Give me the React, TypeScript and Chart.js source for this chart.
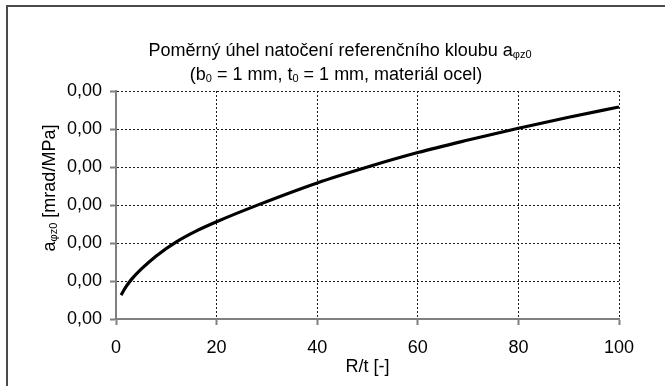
import React, { useEffect, useRef } from "react";
import { Chart, registerables } from "chart.js";

Chart.register(...registerables);

const ratioRt: number[] = [1, 2, 3, 5, 8, 12, 16, 20, 28, 40, 50, 60, 70, 80, 90, 100];
const angleValues: number[] = [0.000315, 0.000425, 0.000515, 0.000655, 0.00083, 0.001015, 0.00116, 0.00128, 0.001495, 0.00179, 0.002, 0.00219, 0.002355, 0.00251, 0.002655, 0.00279];
const xTicks: number[] = [0, 20, 40, 60, 80, 100];
const yTicks: number[] = [0, 0.0005, 0.001, 0.0015, 0.002, 0.0025, 0.003];

type Seg = { t: string; sub?: boolean };
const titleLine1: Seg[] = [
  { t: "Poměrný úhel natočení referenčního kloubu a" },
  { t: "φz0", sub: true },
];
const titleLine2: Seg[] = [
  { t: "(b" },
  { t: "0", sub: true },
  { t: " = 1 mm, t" },
  { t: "0", sub: true },
  { t: " = 1 mm, materiál ocel)" },
];
const yTitle: Seg[] = [{ t: "a" }, { t: "φz0", sub: true }, { t: " [mrad/MPa]" }];
const xTitle: Seg[] = [{ t: "R/t [-]" }];

const FONT = "'Liberation Sans', Arial, sans-serif";
const FS = 18;

function drawRich(ctx: CanvasRenderingContext2D, segs: Seg[], cx: number, cy: number, size: number) {
  const subSize = Math.round(size * 0.6);
  let total = 0;
  for (const s of segs) {
    ctx.font = `${s.sub ? subSize : size}px ${FONT}`;
    total += ctx.measureText(s.t).width;
  }
  let x = cx - total / 2;
  ctx.textBaseline = "alphabetic";
  ctx.textAlign = "left";
  const base = cy + size * 0.36;
  for (const s of segs) {
    ctx.font = `${s.sub ? subSize : size}px ${FONT}`;
    ctx.fillText(s.t, x, s.sub ? base + size * 0.1 : base);
    x += ctx.measureText(s.t).width;
  }
}

const textPlugin = {
  id: "customText",
  afterDraw(chart: any) {
    const ctx: CanvasRenderingContext2D = chart.ctx;
    ctx.save();
    ctx.strokeStyle = "#4a4a4a";
    ctx.lineWidth = 2;
    ctx.beginPath();
    ctx.moveTo(7, 386);
    ctx.lineTo(7, 6);
    ctx.lineTo(665, 6);
    ctx.stroke();
    ctx.fillStyle = "#000";
    drawRich(ctx, titleLine1, 340, 50, FS);
    drawRich(ctx, titleLine2, 336, 74, FS);
    const area = chart.chartArea;
    drawRich(ctx, xTitle, (area.left + area.right) / 2, 366, FS);
    ctx.translate(49, 188);
    ctx.rotate(-Math.PI / 2);
    drawRich(ctx, yTitle, 0, 0, FS);
    ctx.restore();
  },
};

export default function App() {
  const ref = useRef<HTMLCanvasElement | null>(null);
  useEffect(() => {
    if (!ref.current) return;
    const chart = new Chart(ref.current, {
      type: "line",
      data: {
        datasets: [
          {
            data: ratioRt.map((x, i) => ({ x, y: angleValues[i] })),
            borderColor: "#000",
            borderWidth: 3.2,
            pointRadius: 0,
            cubicInterpolationMode: "monotone",
            fill: false,
          },
        ],
      },
      options: {
        animation: false,
        responsive: false,
        layout: { padding: { left: 0, top: 91, right: 46, bottom: 0 } },
        plugins: { legend: { display: false }, tooltip: { enabled: false }, title: { display: false } },
        scales: {
          x: {
            type: "linear",
            min: 0,
            max: 100,
            afterBuildTicks: (s: any) => {
              s.ticks = xTicks.map((v) => ({ value: v }));
            },
            afterFit: (s: any) => {
              s.height = 67;
            },
            ticks: {
              color: "#000",
              font: { family: FONT, size: FS },
              padding: 12,
              maxRotation: 0,
            },
            grid: {
              color: "#1a1a1a",
              lineWidth: 1,
              tickColor: "#808080",
              tickLength: 6,
              tickWidth: 2,
            },
            border: { display: true, color: "#808080", width: 2, dash: [2, 2] },
          },
          y: {
            min: 0,
            max: 0.003,
            afterBuildTicks: (s: any) => {
              s.ticks = yTicks.map((v) => ({ value: v }));
            },
            afterFit: (s: any) => {
              s.width = 116;
            },
            ticks: {
              color: "#000",
              font: { family: FONT, size: FS },
              padding: 8,
              callback: (v: any) => Number(v).toFixed(2).replace(".", ","),
            },
            grid: {
              color: "#1a1a1a",
              lineWidth: 1,
              tickColor: "#808080",
              tickLength: 6,
              tickWidth: 2,
            },
            border: { display: true, color: "#808080", width: 2, dash: [2, 2] },
          },
        },
      },
      plugins: [textPlugin],
    } as any);
    return () => chart.destroy();
  }, []);
  return (
    <div style={{ position: "absolute", left: 0, top: 0, width: 665, height: 386, background: "#fff" }}>
      <canvas ref={ref} width={665} height={386} />
    </div>
  );
}
